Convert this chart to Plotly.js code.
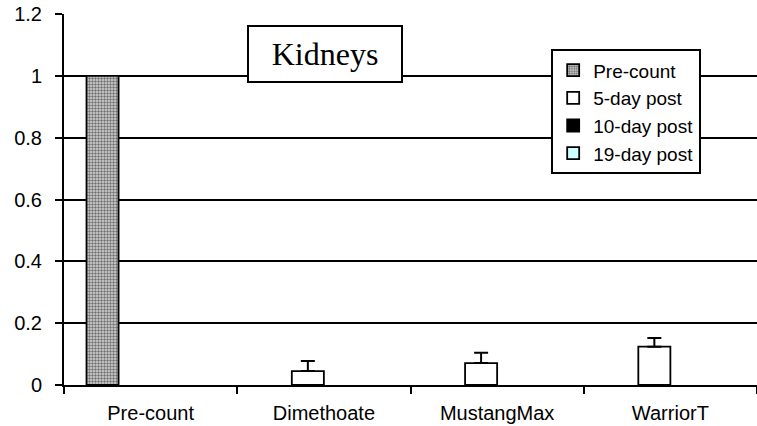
<!DOCTYPE html>
<html>
<head>
<meta charset="utf-8">
<script src="https://cdn.plot.ly/plotly-3.0.1.min.js"></script>
<style>html,body{margin:0;padding:0;background:#fff;}#chart{width:757px;height:426px;}</style>
</head>
<body>
<div id="chart"></div>
<script>
var categories = ["Pre-count", "Dimethoate", "MustangMax", "WarriorT"];
var seriesNames = ["Pre-count", "5-day post", "10-day post", "19-day post"];
var preCount = [1, null, null, null];
var day5 = [null, 0.045, 0.071, 0.124];
var day5Err = [0, 0.033, 0.033, 0.028];
var day10 = [null, null, null, null];
var day19 = [null, null, null, null];
var yTicks = [0, 0.2, 0.4, 0.6, 0.8, 1, 1.2];

var lineStyle = {color: "#000", width: 1.8};
var traces = [
  {type: "bar", name: seriesNames[0], x: categories, y: preCount,
   marker: {color: "#b0b0b0", line: lineStyle,
            pattern: {shape: ".", fgcolor: "#707070", bgcolor: "#d8d8d8", size: 3, solidity: 0.5, fillmode: "replace"}}},
  {type: "bar", name: seriesNames[1], x: categories, y: day5,
   marker: {color: "#ffffff", line: lineStyle},
   error_y: {type: "data", array: day5Err, symmetric: false, arrayminus: [0,0,0,0], color: "#000", thickness: 2, width: 7}},
  {type: "bar", name: seriesNames[2], x: categories, y: day10,
   marker: {color: "#000000", line: lineStyle}},
  {type: "bar", name: seriesNames[3], x: categories, y: day19,
   marker: {color: "#ccffff", line: lineStyle}}
];

var layout = {
  width: 757, height: 426,
  margin: {l: 64, r: 0, t: 14, b: 41, pad: 0},
  paper_bgcolor: "#fff", plot_bgcolor: "#fff",
  font: {family: "Liberation Sans, Arial, sans-serif", size: 20, color: "#000"},
  barmode: "group", bargap: 0.26, bargroupgap: 0,
  showlegend: true,
  legend: {x: 0.703, y: 0.905, xanchor: "left", yanchor: "top",
           bgcolor: "#fff", bordercolor: "#000", borderwidth: 2,
           font: {family: "Liberation Sans, Arial, sans-serif", size: 19, color: "#000"},
           itemwidth: 30, tracegroupgap: 0},
  xaxis: {type: "category", showline: true, linecolor: "#000", linewidth: 2,
          ticks: "outside", tickson: "boundaries", ticklen: 7, tickcolor: "#000", tickwidth: 2,
          showgrid: false, zeroline: false, tickfont: {size: 20}, ticklabelstandoff: 9, automargin: false},
  yaxis: {range: [0, 1.2], tickvals: yTicks, ticktext: yTicks.map(String),
          showline: true, linecolor: "#000", linewidth: 2,
          ticks: "outside", ticklen: 7, tickcolor: "#000", tickwidth: 2,
          showgrid: true, gridcolor: "#000", gridwidth: 2, zeroline: false,
          tickfont: {size: 20}, ticklabelstandoff: 9, automargin: false},
  annotations: [{
    text: "Kidneys", xref: "paper", yref: "paper", x: 0.3766, y: 0.8935,
    xanchor: "center", yanchor: "middle", showarrow: false,
    width: 152, height: 54, align: "center", valign: "middle",
    bgcolor: "#fff", bordercolor: "#000", borderwidth: 2, borderpad: 0,
    font: {family: "Liberation Serif, Times New Roman, serif", size: 32, color: "#000"}
  }]
};

Plotly.newPlot("chart", traces, layout, {displayModeBar: false, staticPlot: true});
</script>
</body>
</html>
